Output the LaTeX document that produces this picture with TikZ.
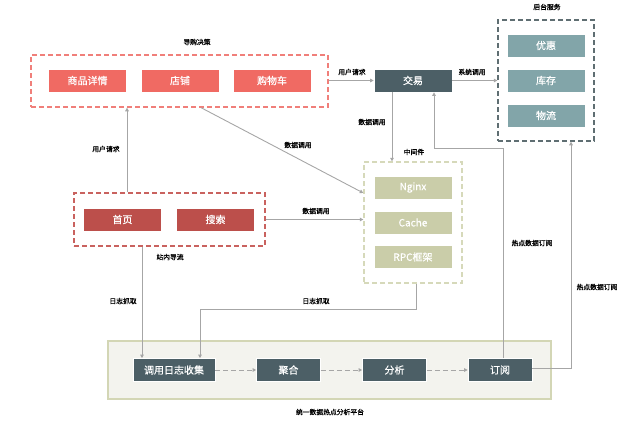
\documentclass[tikz,border=0pt]{standalone}
\usepackage{fontspec}
\setmainfont{Noto Sans CJK SC}
\newfontfamily\lblfont{Noto Sans CJK SC}[FakeBold=1]
\newfontfamily\boxfont{Noto Sans CJK SC}[FakeBold=0.6]
\usetikzlibrary{arrows.meta}
\definecolor{redA}{HTML}{F06A63}
\definecolor{redAb}{HTML}{F07F7A}
\definecolor{redB}{HTML}{BC4F4B}
\definecolor{redBb}{HTML}{C9625F}
\definecolor{slate}{HTML}{4C5F66}
\definecolor{teal}{HTML}{82A5A9}
\definecolor{tealb}{HTML}{5F6E72}
\definecolor{olive}{HTML}{CACDA9}
\definecolor{oliveb}{HTML}{D6D9BA}
\definecolor{plat}{HTML}{F3F3EE}
\definecolor{platb}{HTML}{D3D6B5}
\definecolor{conn}{HTML}{A6A6A6}
\tikzset{
  box/.style={draw=white, line width=0.6pt, minimum width=78pt, minimum height=23pt, inner sep=0pt, text=white, font=\boxfont\fontsize{10}{11}\selectfont},
  sbox/.style={box, minimum width=64pt},
  grp/.style={draw, dashed, dash pattern=on 5pt off 3pt, line width=1.3pt, inner sep=0pt},
  lbl/.style={font=\lblfont\fontsize{6.8}{8}\selectfont, text=black, inner sep=0pt},
  arr/.style={draw=conn, line width=0.9pt, -{Triangle[width=3.6pt,length=3.6pt]}},
  darr/.style={arr, dashed, dash pattern=on 5pt off 3pt}
}
\begin{document}
\begin{tikzpicture}[x=1pt,y=-1pt]
\useasboundingbox (0,0) rectangle (642,426);
% groups
\node[grp, draw=redAb, minimum width=297pt, minimum height=52pt] (g1) at (179.5,81) {};
\node[grp, draw=redBb, minimum width=191pt, minimum height=53pt] (g2) at (169.5,219.5) {};
\node[grp, draw=tealb, minimum width=96pt, minimum height=121pt] (be) at (546,80.5) {};
\node[grp, draw=oliveb, minimum width=98pt, minimum height=121pt] (mw) at (413,222.5) {};
\node[draw=platb, fill=plat, line width=1.2pt, minimum width=443pt, minimum height=58pt, inner sep=0pt] (pf) at (329.5,370) {};
% titles
\node[lbl] (t1) at (197,42) {导购决策};
\node[lbl] (t2) at (547,7) {后台服务};
\node[lbl] (t3) at (414,152) {中间件};
\node[lbl] (t4) at (330,412) {统一数据热点分析平台};
% boxes
\node[box, fill=redA] (spxq) at (87.5,80.5) {商品详情};
\node[box, fill=redA] (dp) at (180,80.5) {店铺};
\node[box, fill=redA] (gwc) at (272,80.5) {购物车};
\node[box, fill=slate] (jy) at (413,80.5) {交易};
\node[box, fill=teal] (yh) at (546,45.5) {优惠};
\node[box, fill=teal] (kc) at (546,80.5) {库存};
\node[box, fill=teal] (wl) at (546,115.5) {物流};
\node[box, fill=redB] (sy) at (122.5,219.5) {首页};
\node[box, fill=redB] (ss) at (215.5,219.5) {搜索};
\node[box, fill=olive] (ng) at (413,187.5) {Nginx};
\node[box, fill=olive] (ca) at (413,222.5) {Cache};
\node[box, fill=olive] (rpc) at (413,257) {RPC框架};
\node[box, fill=slate, minimum width=82pt] (col) at (174,370) {调用日志收集};
\node[sbox, fill=slate] (jh) at (288.5,370) {聚合};
\node[sbox, fill=slate] (fx) at (394.5,370) {分析};
\node[sbox, fill=slate] (dy) at (500,370) {订阅};
% connectors
\draw[arr] (g1.east |- jy.west) -- (jy.west);
\node[lbl] (l1) at (352,72) {用户请求};
\draw[arr] (jy.east) -- (jy.east -| be.west);
\node[lbl] (l2) at (472,72) {系统调用};
\draw[arr] ([xshift=-21pt]jy.south) -- ([xshift=-21pt]jy.south |- mw.north);
\node[lbl] (l3) at (372,122) {数据调用};
\draw[arr] ([xshift=-42.5pt]g2.north) -- ([xshift=-42.5pt]g2.north |- g1.south);
\node[lbl] (l4) at (106,149) {用户请求};
\draw[arr] ([xshift=21.5pt]g1.south) -- ([yshift=29.5pt]mw.west);
\node[lbl] (l5) at (298,145) {数据调用};
\draw[arr] (g2.east) -- (g2.east -| mw.west);
\node[lbl] (l6) at (316,211) {数据调用};
\draw[arr] ([xshift=-27.5pt]g2.south) -- ([xshift=-27.5pt]g2.south |- col.north);
\node[lbl] (l7) at (170,257) {站内导流};
\node[lbl] (l8) at (123,301) {日志抓取};
\draw[arr] ([xshift=3pt]mw.south) -- ++(0,26) -| ([xshift=26pt]col.north);
\node[lbl] (l9) at (316,301) {日志抓取};
\draw[darr] (col.east) -- (jh.west);
\draw[darr] (jh.east) -- (fx.west);
\draw[darr] (fx.east) -- (dy.west);
\draw[arr] ([xshift=3pt]dy.north) -- ++(0,-210) -| ([xshift=21pt]jy.south);
\node[lbl] (l10) at (532,243) {热点数据订阅};
\draw[arr] ([yshift=2pt]dy.east) -| ([xshift=25pt]be.south);
\node[lbl] (l11) at (597,287) {热点数据订阅};
\end{tikzpicture}
\end{document}
